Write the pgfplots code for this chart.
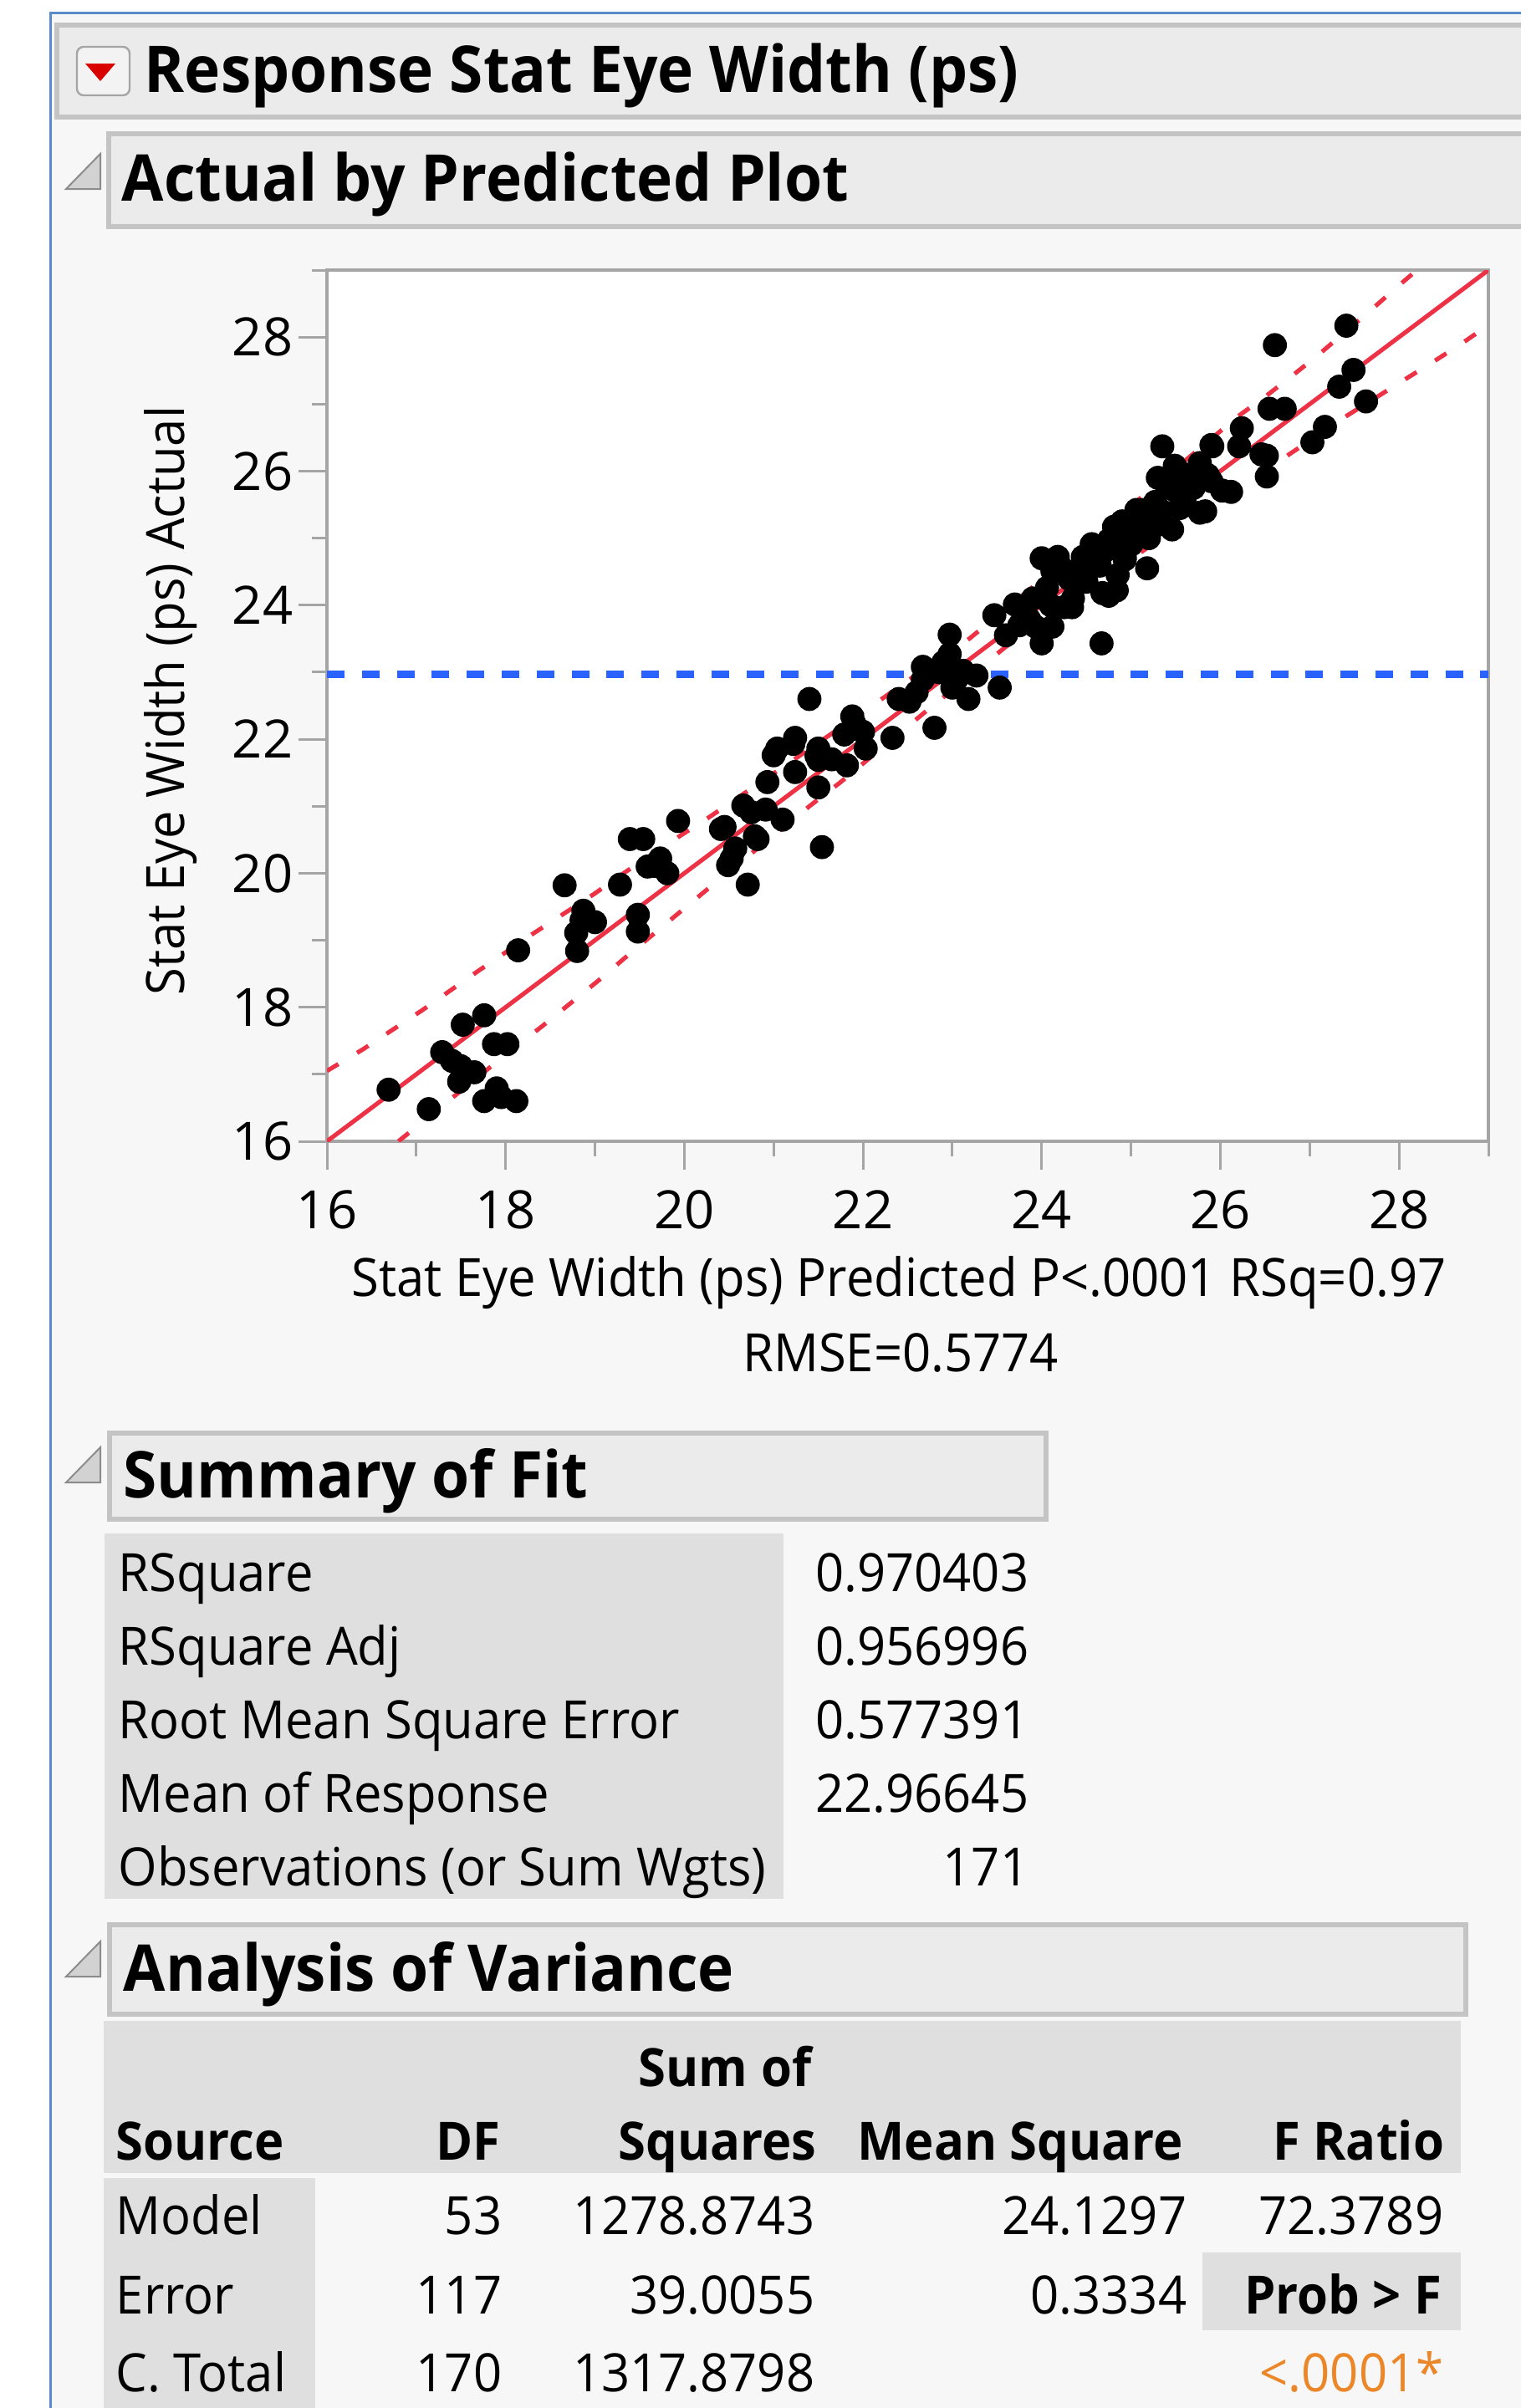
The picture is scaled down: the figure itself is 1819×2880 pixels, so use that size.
\documentclass[border=0pt]{standalone}
\usepackage{pgfplots}
\pgfplotsset{compat=1.18}
\usepackage{fontspec}
\setmainfont{Open Sans}[FakeStretch=0.945]
\newfontfamily\tickfamily{Open Sans}
\definecolor{pagebg}{HTML}{F7F7F7}
\definecolor{winblue}{RGB}{90,140,205}
\definecolor{hdrfill}{HTML}{EBEBEB}
\definecolor{hdrline}{HTML}{C4C4C4}
\definecolor{cellgray}{HTML}{DFDFDF}
\definecolor{axisgray}{HTML}{A5A5A5}
\definecolor{fitred}{RGB}{238,50,70}
\definecolor{meanblue}{RGB}{41,98,255}
\definecolor{jmporange}{RGB}{235,135,40}
\newcommand{\hfont}{\fontsize{19.3}{23}\bfseries\selectfont}
\newcommand{\bfont}{\fontsize{15.8}{19}\selectfont}
\newcommand{\hbfont}{\fontsize{15.8}{19}\bfseries\selectfont}
\newcommand{\tfont}{\tickfamily\fontsize{15.8}{19}\selectfont}

\pgfplotstableread{
x y
16.69 16.77
17.14 16.48
17.29 17.33
17.40 17.20
17.50 17.12
17.48 16.89
17.65 17.03
17.52 17.74
17.76 17.88
17.87 17.45
18.02 17.45
17.76 16.60
17.90 16.79
18.12 16.60
17.95 16.66
18.14 18.85
18.66 19.82
18.87 19.44
19.00 19.27
18.79 19.11
18.80 18.84
18.85 19.30
19.28 19.83
19.39 20.51
19.54 20.51
19.48 19.38
19.48 19.13
19.73 20.22
19.59 20.10
19.81 20.00
19.67 20.11
19.93 20.78
20.41 20.66
20.66 21.01
20.91 20.95
21.10 20.80
20.82 20.51
20.57 20.37
20.49 20.12
20.53 20.22
20.45 20.69
20.75 20.91
20.79 20.55
20.71 19.83
21.54 20.39
20.93 21.36
21.24 21.51
21.50 21.28
21.24 22.02
21.04 21.86
21.00 21.76
21.50 21.86
21.50 21.69
21.22 21.93
21.48 21.75
21.40 22.60
21.88 22.34
22.00 22.11
21.79 22.07
22.03 21.86
21.82 21.61
22.33 22.02
21.90 22.24
21.65 21.70
22.40 22.60
22.80 22.17
22.52 22.56
22.67 23.08
22.67 22.89
22.97 23.56
22.97 23.27
23.12 23.02
23.18 22.60
23.00 22.77
23.27 22.95
23.53 22.77
22.85 23.00
23.05 22.90
22.90 23.15
23.47 23.85
23.81 23.93
23.93 23.68
24.00 23.43
24.34 23.97
24.06 24.26
24.00 24.70
24.18 24.72
24.27 24.51
24.68 24.18
24.84 24.22
24.59 24.76
24.93 24.68
24.81 25.17
25.12 25.42
24.67 23.43
24.25 23.97
24.12 24.51
24.12 23.68
24.46 24.72
24.31 24.39
24.75 24.14
24.65 24.59
25.18 24.55
24.93 24.72
24.56 24.91
24.75 24.97
25.46 25.13
24.90 25.25
25.06 25.42
25.27 25.54
25.77 25.38
25.40 25.79
25.65 25.83
26.02 25.71
25.49 26.08
25.77 26.12
25.35 26.37
25.91 26.37
26.24 26.64
26.55 26.93
26.72 26.93
26.52 25.92
26.46 26.25
26.21 26.37
27.03 26.43
27.17 26.66
27.49 27.51
27.33 27.26
26.61 27.88
27.41 28.17
27.63 27.04
26.52 26.23
25.90 26.39
26.12 25.69
25.86 25.94
25.83 25.40
23.70 24.01
23.86 23.79
23.90 24.10
24.10 24.00
23.75 23.70
24.40 24.50
24.50 24.35
24.70 24.80
24.90 24.95
25.10 25.15
25.35 25.40
25.50 25.70
25.70 25.75
25.90 25.85
24.20 24.60
25.00 25.10
25.00 24.90
25.20 25.00
25.30 25.20
25.55 25.45
25.60 25.60
25.30 25.90
25.60 25.95
24.85 24.45
24.35 24.10
23.60 23.55
22.60 22.70
}\ptsdata

\pgfplotstableread{
x y
16.00 17.05
16.40 17.37
17.06 17.95
17.68 18.53
18.32 19.11
18.99 19.69
19.32 20.00
19.92 20.53
20.26 20.82
21.20 21.67
22.21 22.60
22.53 22.90
23.19 23.50
24.00 24.38
25.00 25.48
26.20 26.82
26.52 27.13
26.82 27.44
27.11 27.75
27.70 28.42
27.98 28.75
28.20 29.00
}\bandhi

\pgfplotstableread{
x y
16.80 16.00
17.84 17.12
18.43 17.74
19.04 18.40
19.32 18.72
19.95 19.42
20.23 19.73
21.41 21.01
21.75 21.36
22.69 22.40
23.59 23.37
24.40 24.14
25.21 24.88
26.21 25.71
26.77 26.25
27.42 26.83
28.44 27.68
28.73 27.93
29.00 28.18
}\bandlo

\begin{document}
\begin{tikzpicture}
\begin{scope}[x=0.25pt,y=-0.25pt]
\path[use as bounding box] (0,0) rectangle (1819,2880);
\fill[white] (0,0) rectangle (1819,2880);
\fill[pagebg] (61,16) rectangle (1819,2880);
\draw[winblue, line width=0.75pt] (60,2880) -- (60,15) -- (1819,15);
% header 1
\filldraw[fill=hdrfill, draw=hdrline, line width=1.3pt] (68,30) rectangle (1840,140);
\filldraw[fill=hdrfill!60!white, draw=axisgray, line width=0.6pt, rounded corners=2pt] (92,56) rectangle (155,114);
\fill[red!85!black] (102,76) -- (138,76) -- (120,97) -- cycle;
\node[anchor=base west, inner sep=0pt, font=\hfont] at (172,110) {Response Stat Eye Width (ps)};
% header 2
\filldraw[fill=hdrfill, draw=hdrline, line width=1.3pt] (130,160) rectangle (1840,271);
\filldraw[fill=gray!35, draw=gray!90, line width=0.5pt] (79,226) -- (120,226) -- (120,184) -- cycle;
\node[anchor=base west, inner sep=0pt, font=\hfont] at (145,240) {Actual by Predicted Plot};
% axis labels
\node[anchor=base, rotate=90, inner sep=0pt, font=\bfont] at (220,838) {Stat Eye Width (ps) Actual};
\node[anchor=base, inner sep=0pt, font=\bfont] at (1075,1550) {Stat Eye Width (ps) Predicted P<.0001 RSq=0.97};
\node[anchor=base, inner sep=0pt, font=\bfont] at (1077,1640) {RMSE=0.5774};
% summary of fit
\filldraw[fill=hdrfill, draw=hdrline, line width=1.3pt] (131,1714) rectangle (1251,1817);
\filldraw[fill=gray!35, draw=gray!90, line width=0.5pt] (79,1773) -- (120,1773) -- (120,1731) -- cycle;
\node[anchor=base west, inner sep=0pt, font=\hfont] at (147,1791) {Summary of Fit};
\fill[cellgray] (125,1834) rectangle (937,2271);
\foreach \lab/\val/\yy in {RSquare/0.970403/1903, RSquare Adj/0.956996/1991, Root Mean Square Error/0.577391/2079, Mean of Response/22.96645/2167, Observations (or Sum Wgts)/171/2255}{
  \node[anchor=base west, inner sep=0pt, font=\bfont] at (141,\yy) {\lab};
  \node[anchor=base east, inner sep=0pt, font=\bfont] at (1231,\yy) {\val};
}
% analysis of variance
\filldraw[fill=hdrfill, draw=hdrline, line width=1.3pt] (131,2302) rectangle (1753,2409);
\filldraw[fill=gray!35, draw=gray!90, line width=0.5pt] (79,2364) -- (120,2364) -- (120,2322) -- cycle;
\node[anchor=base west, inner sep=0pt, font=\hfont] at (147,2381) {Analysis of Variance};
\fill[cellgray] (124,2417) rectangle (1747,2599);
\fill[cellgray] (124,2605) rectangle (377,2880);
\fill[cellgray] (1438,2694) rectangle (1747,2787);
\node[anchor=base, inner sep=0pt, font=\hbfont] at (867,2495) {Sum of};
\node[anchor=base west, inner sep=0pt, font=\hbfont] at (138,2583) {Source};
\node[anchor=base east, inner sep=0pt, font=\hbfont] at (599,2583) {DF};
\node[anchor=base east, inner sep=0pt, font=\hbfont] at (977,2583) {Squares};
\node[anchor=base east, inner sep=0pt, font=\hbfont] at (1416,2583) {Mean Square};
\node[anchor=base east, inner sep=0pt, font=\hbfont] at (1728,2583) {F Ratio};
\node[anchor=base west, inner sep=0pt, font=\bfont] at (138,2672) {Model};
\node[anchor=base east, inner sep=0pt, font=\bfont] at (601,2672) {53};
\node[anchor=base east, inner sep=0pt, font=\bfont] at (975,2672) {1278.8743};
\node[anchor=base east, inner sep=0pt, font=\bfont] at (1420,2672) {24.1297};
\node[anchor=base east, inner sep=0pt, font=\bfont] at (1727,2672) {72.3789};
\node[anchor=base west, inner sep=0pt, font=\bfont] at (138,2767) {Error};
\node[anchor=base east, inner sep=0pt, font=\bfont] at (601,2767) {117};
\node[anchor=base east, inner sep=0pt, font=\bfont] at (975,2767) {39.0055};
\node[anchor=base east, inner sep=0pt, font=\bfont] at (1420,2767) {0.3334};
\node[anchor=base east, inner sep=0pt, font=\hbfont] at (1725,2767) {Prob > F};
\node[anchor=base west, inner sep=0pt, font=\bfont] at (138,2860) {C. Total};
\node[anchor=base east, inner sep=0pt, font=\bfont] at (601,2860) {170};
\node[anchor=base east, inner sep=0pt, font=\bfont] at (975,2860) {1317.8798};
\node[anchor=base east, inner sep=0pt, font=\bfont, text=jmporange] at (1727,2860) {<.0001*};
\end{scope}

\begin{axis}[
  at={(97.75pt,-341.25pt)}, anchor=south west,
  width=347.25pt, height=260.5pt, scale only axis,
  xmin=16, xmax=29, ymin=16, ymax=29,
  xtick={16,18,...,28}, ytick={16,18,...,28},
  minor xtick={17,19,...,29}, minor ytick={17,19,...,29},
  xtick pos=lower, ytick pos=left,
  tick align=outside,
  major tick length=8.5pt, minor tick length=4.5pt,
  axis line style={draw=axisgray, line width=0.9pt},
  every tick/.style={draw=axisgray, line width=0.75pt},
  axis background/.style={fill=white},
  /pgf/number format/assume math mode=true,
  ticklabel style={font=\tfont, text=black},
  xticklabel style={anchor=base, inner sep=0pt, yshift=-17.5pt},
  yticklabel style={anchor=east, inner sep=0pt, xshift=-1.5pt},
  clip=true,
]
\addplot[fitred, line width=1.3pt] coordinates {(16,16) (29,29)};
\addplot[fitred, line width=1.3pt, dash pattern=on 4pt off 6.5pt] table[x=x,y=y] {\bandhi};
\addplot[fitred, line width=1.3pt, dash pattern=on 4pt off 6.5pt] table[x=x,y=y] {\bandlo};
\addplot[meanblue, line width=2.2pt, dash pattern=on 5.25pt off 5.2pt] coordinates {(16,22.966) (29,22.966)};
\addplot[only marks, mark=*, mark size=3.4pt, draw=black, fill=black] table[x=x,y=y] {\ptsdata};
\end{axis}
\end{tikzpicture}
\end{document}
